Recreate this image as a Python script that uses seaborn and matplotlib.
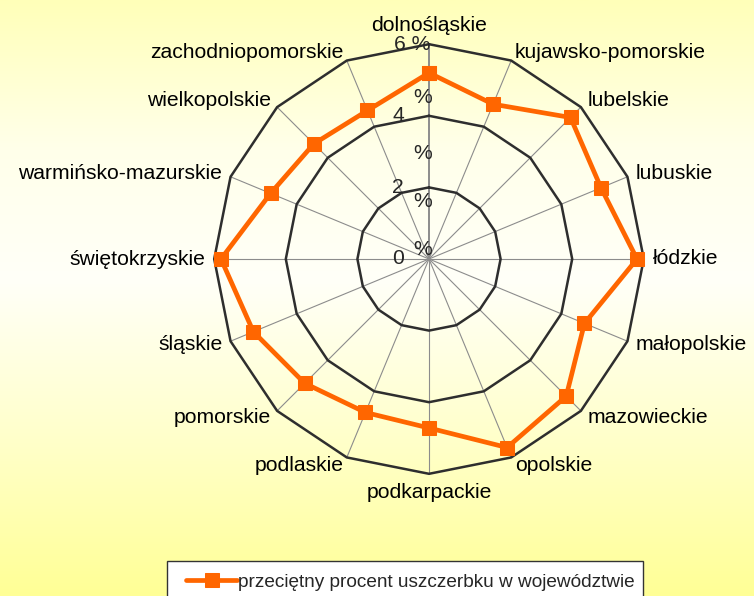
import numpy as np
import pandas as pd
import matplotlib
matplotlib.use("Agg")
import matplotlib.pyplot as plt
from matplotlib.patches import Rectangle
import seaborn as sns

# dane: przeciętny procent uszczerbku w województwie
wojewodztwa = [
    "dolnośląskie", "kujawsko-pomorskie", "lubelskie", "lubuskie",
    "łódzkie", "małopolskie", "mazowieckie", "opolskie",
    "podkarpackie", "podlaskie", "pomorskie", "śląskie",
    "świętokrzyskie", "warmińsko-mazurskie", "wielkopolskie",
    "zachodniopomorskie",
]
procent = [5.2, 4.68, 5.59, 5.2, 5.81, 4.7, 5.42, 5.7,
           4.72, 4.64, 4.91, 5.31, 5.81, 4.79, 4.55, 4.49]
ticks = [0, 2, 4, 6]
seria = "przeciętny procent uszczerbku w województwie"

sns.set_theme(style="white")
plt.rcParams["font.family"] = ["Liberation Sans", "DejaVu Sans"]

W, H = 754, 596
cx, cy, scale = 429, 259, 35.8
fs = 15.2

fig = plt.figure(figsize=(W / 100, H / 100), dpi=100)

# tło - pionowy gradient
grad = np.array([
    [255, 255, 185], [255, 255, 234], [255, 255, 248],
    [255, 255, 200], [255, 255, 150],
]) / 255.0
stops = np.array([0.0, 0.25, 0.47, 0.75, 1.0])
yy = np.linspace(0, 1, 300)
img = np.stack([np.interp(yy, stops, grad[:, k]) for k in range(3)], axis=1)
bg = fig.add_axes([0, 0, 1, 1], zorder=-2)
bg.imshow(img[:, None, :], aspect="auto", extent=[0, 1, 0, 1])
bg.axis("off")

ax = fig.add_axes([0, 0, 1, 1])
ax.patch.set_alpha(0)
ax.set_xlim(-cx / scale, (W - cx) / scale)
ax.set_ylim((cy - H) / scale, cy / scale)
ax.axis("off")

n = len(wojewodztwa)
theta = np.arange(n) * 2 * np.pi / n

# szprychy
for i, t in enumerate(theta):
    lw = 1.4 if i == 0 else 0.8
    ax.plot([0, 6 * np.sin(t)], [0, 6 * np.cos(t)], color="#8c8c8c", lw=lw, zorder=1)

# pierścienie (wielokąty)
tc = np.append(theta, theta[0])
for r in ticks[1:]:
    ax.plot(r * np.sin(tc), r * np.cos(tc), color="#2e2e2e", lw=1.8, zorder=2)

# seria danych
vals = np.array(procent + procent[:1])
df = pd.DataFrame({"x": vals * np.sin(tc), "y": vals * np.cos(tc)})
sns.lineplot(data=df, x="x", y="y", sort=False, estimator=None, ax=ax,
             color="#ff6600", lw=3.4, marker="s", markersize=10.5,
             markeredgecolor="#ff6600", label=seria, zorder=4)

# etykiety kategorii
rl = 6.25
for name, t in zip(wojewodztwa, theta):
    s, c = np.sin(t), np.cos(t)
    if abs(s) < 1e-6:
        ha = "center"
        va = "bottom" if c > 0 else "top"
    else:
        ha = "left" if s > 0 else "right"
        va = "center"
    ax.text(rl * s, rl * c, name, ha=ha, va=va, fontsize=fs, color="black", zorder=5)

# etykiety osi wartości
for t in ticks:
    if t == 6:
        ax.text(0.05, t, "6 %", ha="right", va="center", fontsize=fs, zorder=5)
    else:
        ax.text(-0.7, t, str(t), ha="right", va="center", fontsize=fs, zorder=5)
for r in [0.26, 1.6, 2.96, 4.5]:
    ax.text(0.08, r, "%", ha="right", va="center", fontsize=fs, zorder=5)

# ramka legendy
ax.add_patch(Rectangle((167 / W, -0.05), (643 - 167) / W, (596 - 561) / H + 0.05,
                       transform=fig.transFigure, facecolor="white",
                       edgecolor="#333333", lw=1.0, clip_on=False, zorder=6))
leg = ax.legend(loc="center left", bbox_to_anchor=(186 / W, 1 - 582 / H),
                bbox_transform=fig.transFigure, frameon=False, fontsize=13.7,
                handlelength=2.7, handletextpad=0.05, borderpad=0,
                borderaxespad=0)
leg.set_zorder(7)

fig.savefig("out.png", dpi=100)
